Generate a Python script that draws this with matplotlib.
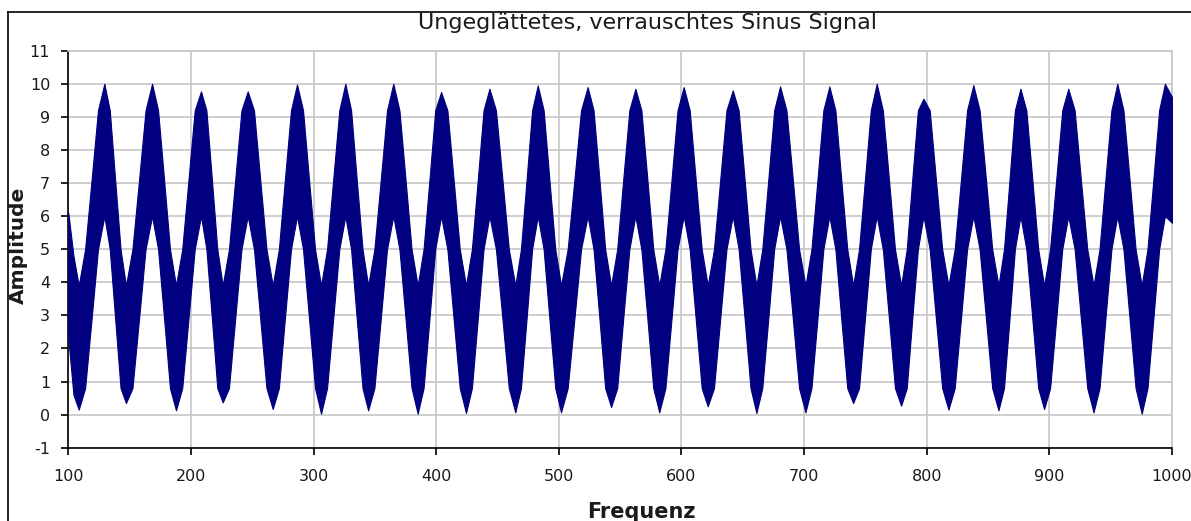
import matplotlib
matplotlib.use("Agg")
import matplotlib.pyplot as plt
from matplotlib.lines import Line2D

# ---- data ----
title_text = "Ungeglättetes, verrauschtes Sinus Signal"
x_label = "Frequenz"
y_label = "Amplitude"
x_ticks = [100, 200, 300, 400, 500, 600, 700, 800, 900, 1000]
y_ticks = [-1, 0, 1, 2, 3, 4, 5, 6, 7, 8, 9, 10, 11]

# knot positions along the noisy band (troughs, peaks and points between them)
knot_x = [
    100.0, 104.2,
    108.5, 113.7, 119.0, 124.2, 129.4, 133.8, 138.2, 142.6,
    147.0, 152.3, 157.7, 163.0, 168.3, 173.2, 178.1, 182.9,
    187.8, 192.9, 198.0, 203.1, 208.2, 212.6, 217.1, 221.5,
    225.9, 231.0, 236.1, 241.2, 246.3, 251.4, 256.5, 261.6,
    266.7, 271.7, 276.6, 281.6, 286.5, 291.4, 296.3, 301.2,
    306.1, 311.0, 316.0, 321.0, 325.9, 330.6, 335.2, 339.9,
    344.5, 349.6, 354.8, 359.9, 365.0, 370.0, 375.0, 379.9,
    384.9, 389.7, 394.5, 399.2, 404.0, 409.1, 414.2, 419.2,
    424.3, 429.1, 433.9, 438.6, 443.4, 448.7, 454.0, 459.2,
    464.5, 469.1, 473.7, 478.2, 482.8, 487.6, 492.3, 497.1,
    501.8, 507.2, 512.7, 518.1, 523.5, 528.3, 533.1, 537.8,
    542.6, 547.6, 552.5, 557.5, 562.4, 567.3, 572.2, 577.0,
    581.9, 586.9, 591.9, 596.8, 601.8, 606.7, 611.6, 616.5,
    621.4, 626.5, 631.6, 636.7, 641.8, 646.6, 651.5, 656.3,
    661.1, 665.9, 670.8, 675.6, 680.4, 685.6, 690.8, 695.9,
    701.1, 706.0, 710.9, 715.7, 720.6, 725.5, 730.3, 735.2,
    740.0, 744.8, 749.6, 754.4, 759.2, 764.2, 769.2, 774.1,
    779.1, 783.7, 788.2, 792.8, 797.3, 802.4, 807.5, 812.6,
    817.7, 822.8, 827.9, 832.9, 838.0, 843.1, 848.3, 853.4,
    858.5, 863.0, 867.5, 871.9, 876.4, 881.2, 886.1, 890.9,
    895.7, 900.6, 905.6, 910.5, 915.4, 920.6, 925.7, 930.9,
    936.0, 940.9, 945.7, 950.6, 955.4, 960.4, 965.4, 970.3,
    975.3, 980.0, 984.8, 989.5, 994.2, 1000.0,
]

# upper edge of the noisy signal at each knot
upper = [
    6.1, 4.8,
    3.9, 5.0, 7.1, 9.2, 10.00, 9.2, 7.1, 5.0,
    3.9, 5.0, 7.1, 9.2, 10.00, 9.2, 7.1, 5.0,
    3.9, 5.0, 7.1, 9.2, 9.77, 9.2, 7.1, 5.0,
    3.9, 5.0, 7.1, 9.2, 9.77, 9.2, 7.1, 5.0,
    3.9, 5.0, 7.1, 9.2, 9.98, 9.2, 7.1, 5.0,
    3.9, 5.0, 7.1, 9.2, 10.00, 9.2, 7.1, 5.0,
    3.9, 5.0, 7.1, 9.2, 10.00, 9.2, 7.1, 5.0,
    3.9, 5.0, 7.1, 9.2, 9.75, 9.2, 7.1, 5.0,
    3.9, 5.0, 7.1, 9.2, 9.85, 9.2, 7.1, 5.0,
    3.9, 5.0, 7.1, 9.2, 9.95, 9.2, 7.1, 5.0,
    3.9, 5.0, 7.1, 9.2, 9.90, 9.2, 7.1, 5.0,
    3.9, 5.0, 7.1, 9.2, 9.85, 9.2, 7.1, 5.0,
    3.9, 5.0, 7.1, 9.2, 9.90, 9.2, 7.1, 5.0,
    3.9, 5.0, 7.1, 9.2, 9.80, 9.2, 7.1, 5.0,
    3.9, 5.0, 7.1, 9.2, 9.92, 9.2, 7.1, 5.0,
    3.9, 5.0, 7.1, 9.2, 9.92, 9.2, 7.1, 5.0,
    3.9, 5.0, 7.1, 9.2, 10.00, 9.2, 7.1, 5.0,
    3.9, 5.0, 7.1, 9.2, 9.55, 9.2, 7.1, 5.0,
    3.9, 5.0, 7.1, 9.2, 9.96, 9.2, 7.1, 5.0,
    3.9, 5.0, 7.1, 9.2, 9.85, 9.2, 7.1, 5.0,
    3.9, 5.0, 7.1, 9.2, 9.85, 9.2, 7.1, 5.0,
    3.9, 5.0, 7.1, 9.2, 10.00, 9.2, 7.1, 5.0,
    3.9, 5.0, 7.1, 9.2, 10.00, 9.6,
]

# lower edge of the noisy signal at each knot
lower = [
    2.3, 0.6,
    0.15, 0.8, 2.9, 5.0, 6.0, 5.0, 2.9, 0.8,
    0.35, 0.8, 2.9, 5.0, 6.0, 5.0, 2.9, 0.8,
    0.13, 0.8, 2.9, 5.0, 6.0, 5.0, 2.9, 0.8,
    0.37, 0.8, 2.9, 5.0, 6.0, 5.0, 2.9, 0.8,
    0.17, 0.8, 2.9, 5.0, 6.0, 5.0, 2.9, 0.8,
    0.03, 0.8, 2.9, 5.0, 6.0, 5.0, 2.9, 0.8,
    0.13, 0.8, 2.9, 5.0, 6.0, 5.0, 2.9, 0.8,
    0.03, 0.8, 2.9, 5.0, 6.0, 5.0, 2.9, 0.8,
    0.05, 0.8, 2.9, 5.0, 6.0, 5.0, 2.9, 0.8,
    0.07, 0.8, 2.9, 5.0, 6.0, 5.0, 2.9, 0.8,
    0.07, 0.8, 2.9, 5.0, 6.0, 5.0, 2.9, 0.8,
    0.23, 0.8, 2.9, 5.0, 6.0, 5.0, 2.9, 0.8,
    0.07, 0.8, 2.9, 5.0, 6.0, 5.0, 2.9, 0.8,
    0.25, 0.8, 2.9, 5.0, 6.0, 5.0, 2.9, 0.8,
    0.05, 0.8, 2.9, 5.0, 6.0, 5.0, 2.9, 0.8,
    0.07, 0.8, 2.9, 5.0, 6.0, 5.0, 2.9, 0.8,
    0.35, 0.8, 2.9, 5.0, 6.0, 5.0, 2.9, 0.8,
    0.27, 0.8, 2.9, 5.0, 6.0, 5.0, 2.9, 0.8,
    0.15, 0.8, 2.9, 5.0, 6.0, 5.0, 2.9, 0.8,
    0.13, 0.8, 2.9, 5.0, 6.0, 5.0, 2.9, 0.8,
    0.17, 0.8, 2.9, 5.0, 6.0, 5.0, 2.9, 0.8,
    0.07, 0.8, 2.9, 5.0, 6.0, 5.0, 2.9, 0.8,
    0.03, 0.8, 2.9, 5.0, 6.0, 5.8,
]

# ---- drawing ----
plt.rcParams["font.family"] = ["DejaVu Sans"]
plt.rcParams["axes.unicode_minus"] = False
W, H = 1191, 521
fig = plt.figure(figsize=(W / 100, H / 100), dpi=100)
fig.patch.set_facecolor("white")

x0, x1, y_top, y_bot = 68.3, 1172.0, 50.7, 447.7
ax = fig.add_axes([x0 / W, 1 - y_bot / H, (x1 - x0) / W, (y_bot - y_top) / H])

ax.fill_between(knot_x, lower, upper, color="#000080", edgecolor="#000080",
                linewidth=0.8, zorder=3)

ax.set_xlim(100, 1000)
ax.set_ylim(-1, 11)
ax.set_xticks(x_ticks)
ax.set_yticks(y_ticks)
ax.grid(True, color="#c6c6c6", linewidth=1.2)
ax.set_axisbelow(True)

for s in ("top", "right"):
    ax.spines[s].set_color("#c6c6c6")
    ax.spines[s].set_linewidth(1.2)
for s in ("left", "bottom"):
    ax.spines[s].set_color("black")
    ax.spines[s].set_linewidth(1.2)

ax.tick_params(axis="both", direction="out", length=5, width=1.2,
               labelsize=11.5, labelcolor="#1a1a1a")
ax.tick_params(axis="y", pad=8)
ax.tick_params(axis="x", pad=10)

fig.text(647 / W, 1 - 29 / H, title_text, ha="center", va="baseline",
         fontsize=16, color="#1a1a1a")
fig.text(641 / W, 1 - 518 / H, x_label, ha="center", va="baseline",
         fontsize=15, fontweight="bold", color="#1a1a1a")
fig.text(18 / W, 1 - 245 / H, y_label, ha="center", va="center",
         rotation=90, fontsize=14.5, fontweight="bold", color="#1a1a1a")

# chart-area frame (left and top edges visible in the reference)
fig.add_artist(Line2D([7.5 / W, 7.5 / W], [0, 1 - 11.7 / H], color="black",
                      linewidth=1.2, transform=fig.transFigure))
fig.add_artist(Line2D([7.5 / W, 1], [1 - 11.7 / H, 1 - 11.7 / H], color="black",
                      linewidth=1.2, transform=fig.transFigure))

fig.savefig("out.png", dpi=100, facecolor="white")
